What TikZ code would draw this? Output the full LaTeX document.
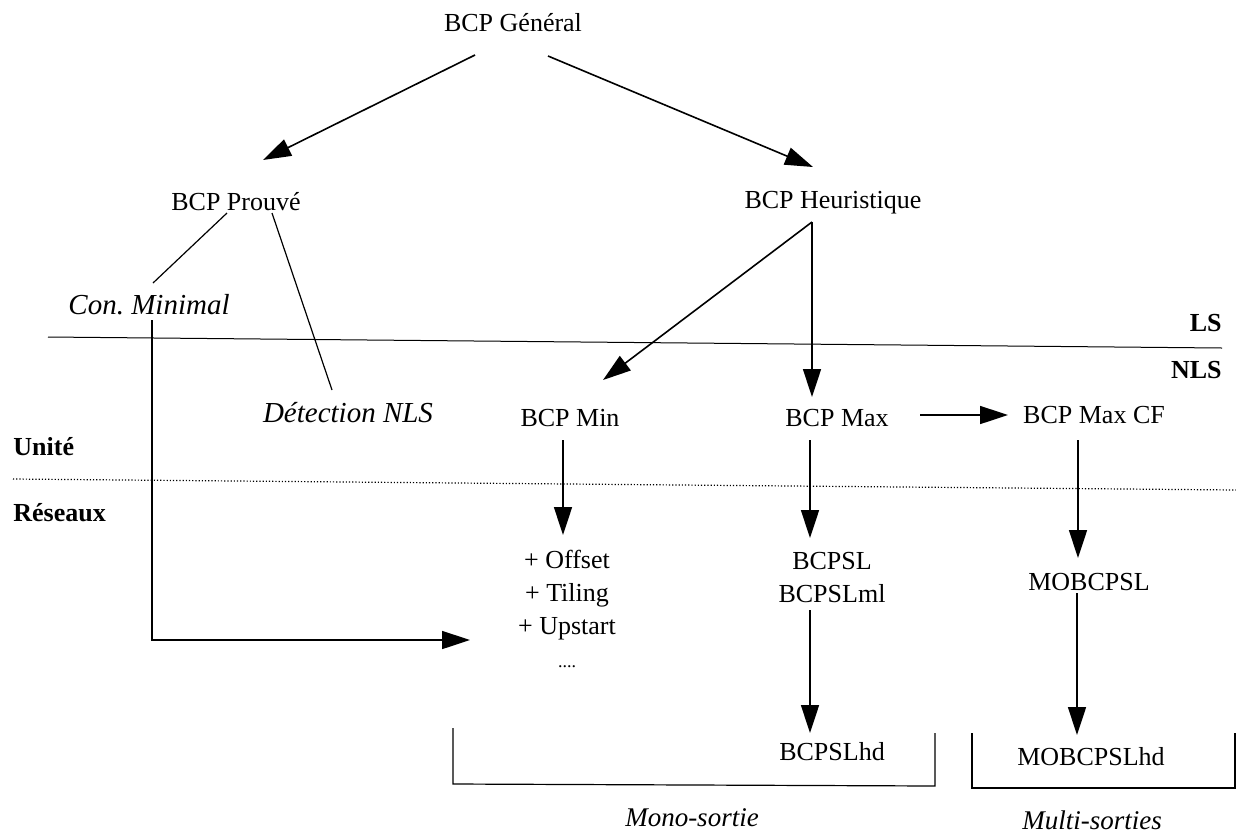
\documentclass[tikz,border=0pt]{standalone}
\usepackage{fontspec}
\setmainfont{Liberation Serif}
\usepackage{tikz}
\usetikzlibrary{arrows.meta, positioning, calc}

\begin{document}
\begin{tikzpicture}[x=0.5pt, y=-0.5pt,
    every node/.style={inner sep=0pt, font=\fontsize{13}{16.5}\selectfont},
    algo/.style={},
    meth/.style={font=\fontsize{14.5}{17}\selectfont\itshape},
    zone/.style={font=\fontsize{13}{16}\selectfont\bfseries},
    kind/.style={font=\fontsize{13.5}{16}\selectfont\itshape},
    arr/.style={-{Triangle[length=14pt, width=9pt]}, line width=0.8pt},
    link/.style={line width=0.6pt}]
  \useasboundingbox (0,0) rectangle (1236,836);
  % Top of the tree
  \node[algo] (gen)    at (513,23)  {BCP Général};
  \node[algo] (prouve) at (236,202) {BCP Prouvé};
  \node[algo] (heur)   at (833,203) {BCP Heuristique};
  \node[meth] (conmin) at (149,305) {Con.\ Minimal};
  \node[meth] (detect) at (348,413) {Détection NLS};
  % Unit level
  \node[algo] (bmin)   at (570,418) {BCP Min};
  \node[algo] (bmax)   at (837,418) {BCP Max};
  \node[algo] (bmaxcf) at (1094,415) {BCP Max CF};
  % Network level
  \node[algo, align=center, anchor=north] (off) at (567,550)
    {+ Offset\\+ Tiling\\+ Upstart\\{\small ....}};
  \node[algo, align=center] (bcpsl) at (832,578) {BCPSL\\BCPSLml};
  \node[algo] (bcpslhd)   at (832,752)  {BCPSLhd};
  \node[algo] (mobcpsl)   at (1089,582) {MOBCPSL};
  \node[algo] (mobcpslhd) at (1091,757) {MOBCPSLhd};
  % Zone labels
  \node[zone, anchor=east]  (ls)   at (1222,323) {LS};
  \node[zone, anchor=east]  (nls)  at (1222,370) {NLS};
  \node[zone, anchor=west]  (unit) at (13,447)   {Unité};
  \node[zone, anchor=west]  (res)  at (13,513)   {Réseaux};
  \node[kind] (mono)  at (692,818)  {Mono-sortie};
  \node[kind] (multi) at (1092,820) {Multi-sorties};
  % Separators
  \draw[line width=0.5pt] (48,337) -- (1222,348);
  \draw[line width=0.6pt, densely dotted] (13,479) -- (1236,490);
  % Arrows
  \draw[arr] ($(gen)+(-38,32)$) -- ($(prouve)+(27,-42)$);
  \draw[arr] ($(gen)+(35,33)$) -- ($(heur)+(-20,-36)$);
  \draw[link] ($(prouve)+(-9,11)$) -- ($(conmin)+(4,-22)$);
  \draw[link] ($(prouve)+(36,11)$) -- ($(detect)+(-16,-23)$);
  \draw[arr] ($(heur)+(-21,19)$) -- ($(bmin)+(33,-38)$);
  \draw[arr] ($(heur)+(-21,19)$) -- ($(bmax)+(-25,-21)$);
  \draw[arr] ($(bmax)+(83,-3)$) -- ($(bmaxcf)+(-86,0)$);
  \draw[arr] ($(bmin)+(-7,22)$) -- ($(off.north)+(-4,-15)$);
  \draw[arr] ($(bmax)+(-27,22)$) -- ($(bcpsl)+(-22,-40)$);
  \draw[arr] ($(bcpsl)+(-22,32)$) -- ($(bcpslhd)+(-22,-19)$);
  \draw[arr] ($(bmaxcf)+(-16,25)$) -- ($(mobcpsl)+(-11,-24)$);
  \draw[arr] ($(mobcpsl)+(-12,11)$) -- ($(mobcpslhd)+(-14,-22)$);
  \draw[arr] ($(conmin)+(3,15)$) |- ($(off.north)+(-97,90)$);
  % Brackets
  \draw[link] (453,728) -- (453,784) -- (935,786) -- (935,733);
  \draw[link] (972,733) -- (972,788) -- (1235,788) -- (1235,733);
\end{tikzpicture}
\end{document}
